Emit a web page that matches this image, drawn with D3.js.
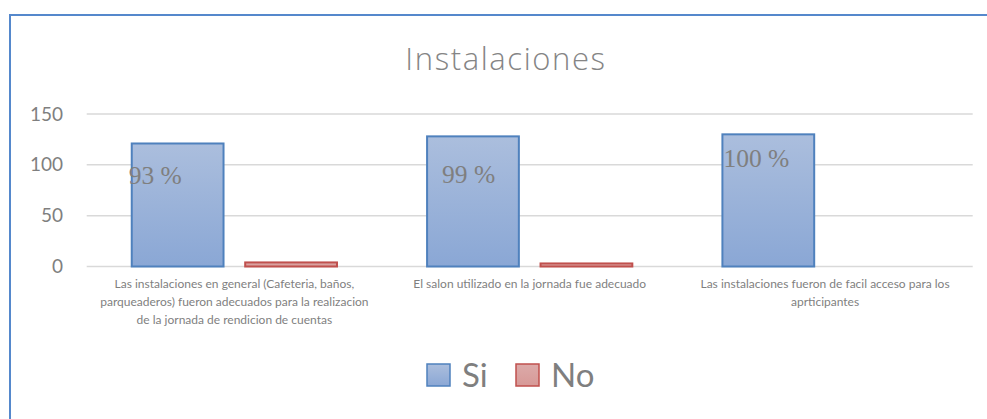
<!DOCTYPE html>
<html>
<head>
<meta charset="utf-8">
<script src="https://cdn.jsdelivr.net/npm/d3@7"></script>
<style>
  html, body { margin: 0; padding: 0; background: #fff; }
  svg { display: block; }
</style>
</head>
<body>
<svg id="chart" width="987" height="419"></svg>
<script>
// ---- data ----
const title = "Instalaciones";
const categories = [
  "Las instalaciones en general (Cafeteria, baños,\nparqueaderos) fueron adecuados para la realizacion\nde la jornada de rendicion de cuentas",
  "El salon utilizado en la jornada fue adecuado",
  "Las instalaciones fueron de facil acceso para los\naprticipantes"
];
const seriesNames = ["Si", "No"];
const siValues = [121, 128, 130];
const noValues = [4, 3, 0];
const pctLabels = ["93 %", "99 %", "100 %"];
const yTicks = [0, 50, 100, 150];

// ---- layout / style ----
const W = 987, H = 419;
const plot = { left: 86.7, right: 972.7, top: 114, bottom: 266.5 };
const colors = {
  Si: { top: "#abbedd", bottom: "#8aa7d5", stroke: "#4f81bd" },
  No: { top: "#dcaaa9", bottom: "#d79997", stroke: "#c0504d" }
};
const textGray = "#7f7f7f";
const sansFont = "Lato, 'Open Sans', sans-serif";
// nudges for the percentage labels (dx from bar left, dy from bar top)
const labelNudge = [[-3, 41], [15, 47], [1, 33]];

const svg = d3.select("#chart");
const defs = svg.append("defs");
seriesNames.forEach(s => {
  const g = defs.append("linearGradient").attr("id", "grad" + s)
    .attr("x1", 0).attr("y1", 0).attr("x2", 0).attr("y2", 1);
  g.append("stop").attr("offset", "0%").attr("stop-color", colors[s].top);
  g.append("stop").attr("offset", "100%").attr("stop-color", colors[s].bottom);
});

// outer border
svg.append("rect")
  .attr("x", 10).attr("y", 15)
  .attr("width", W).attr("height", H)
  .attr("fill", "none").attr("stroke", "#5588cc").attr("stroke-width", 2);

// title
svg.append("text")
  .attr("x", 506).attr("y", 70)
  .attr("text-anchor", "middle")
  .attr("font-family", "'Open Sans', Lato, sans-serif").attr("font-size", 31)
  .attr("font-weight", 300)
  .attr("letter-spacing", 1.6)
  .attr("fill", "#858585")
  .text(title);

// scales
const y = d3.scaleLinear().domain([0, 150]).range([plot.bottom, plot.top]);
const x0 = d3.scaleBand().domain(categories.map((d, i) => i))
  .range([plot.left, plot.right]).paddingInner(0).paddingOuter(0);
const x1 = d3.scaleBand().domain(seriesNames)
  .range([0, x0.bandwidth()]).paddingInner(0.191).paddingOuter(0.397);

// gridlines
svg.append("g").selectAll("line").data(yTicks).join("line")
  .attr("x1", plot.left).attr("x2", plot.right)
  .attr("y1", d => y(d)).attr("y2", d => y(d))
  .attr("stroke", "#d9d9d9").attr("stroke-width", 1.5);

// y axis labels
const yAxis = d3.axisLeft(y).tickValues(yTicks).tickSize(0).tickPadding(0);
const ya = svg.append("g").attr("transform", "translate(63,0)").call(yAxis);
ya.select(".domain").remove();
ya.selectAll("text")
  .attr("font-family", sansFont).attr("font-size", 19)
  .attr("fill", textGray);

// bars
const rows = categories.map((c, i) => ({ i, Si: siValues[i], No: noValues[i] }));
const groups = svg.append("g").selectAll("g").data(rows).join("g")
  .attr("transform", d => `translate(${x0(d.i)},0)`);
groups.selectAll("rect").data(d => seriesNames.map(s => ({ s, v: d[s] })).filter(e => e.v > 0))
  .join("rect")
  .attr("x", e => x1(e.s))
  .attr("y", e => y(e.v))
  .attr("width", x1.bandwidth())
  .attr("height", e => y(0) - y(e.v))
  .attr("fill", e => `url(#grad${e.s})`)
  .attr("stroke", e => colors[e.s].stroke)
  .attr("stroke-width", 2);

// percentage labels
groups.append("text")
  .attr("x", d => x1("Si") + labelNudge[d.i][0])
  .attr("y", d => y(d.Si) + labelNudge[d.i][1])
  .attr("font-family", "'Liberation Serif', 'Times New Roman', serif")
  .attr("font-size", 25.5)
  .attr("fill", "#7f7f7f")
  .text(d => pctLabels[d.i]);

// category labels
const xAxis = d3.axisBottom(x0).tickSize(0).tickFormat(() => "");
const xa = svg.append("g").attr("transform", `translate(0,${plot.bottom})`).call(xAxis);
xa.select(".domain").remove();
xa.selectAll(".tick").each(function(d) {
  const t = d3.select(this).append("text")
    .attr("text-anchor", "middle")
    .attr("font-family", sansFont).attr("font-size", 12)
    .attr("fill", textGray);
  categories[d].split("\n").forEach((line, k) => {
    t.append("tspan").attr("x", 0).attr("y", 21 + k * 18).text(line);
  });
});

// legend
const legend = svg.append("g");
const legendItems = [
  { s: "Si", sx: 427, tx: 462 },
  { s: "No", sx: 516, tx: 551 }
];
legendItems.forEach(it => {
  legend.append("rect")
    .attr("x", it.sx).attr("y", 364).attr("width", 23).attr("height", 22)
    .attr("fill", `url(#grad${it.s})`).attr("stroke", colors[it.s].stroke).attr("stroke-width", 1.5);
  legend.append("text")
    .attr("x", it.tx).attr("y", 387)
    .attr("font-family", sansFont).attr("font-size", 33)
    .attr("fill", textGray)
    .text(it.s);
});
</script>
</body>
</html>
